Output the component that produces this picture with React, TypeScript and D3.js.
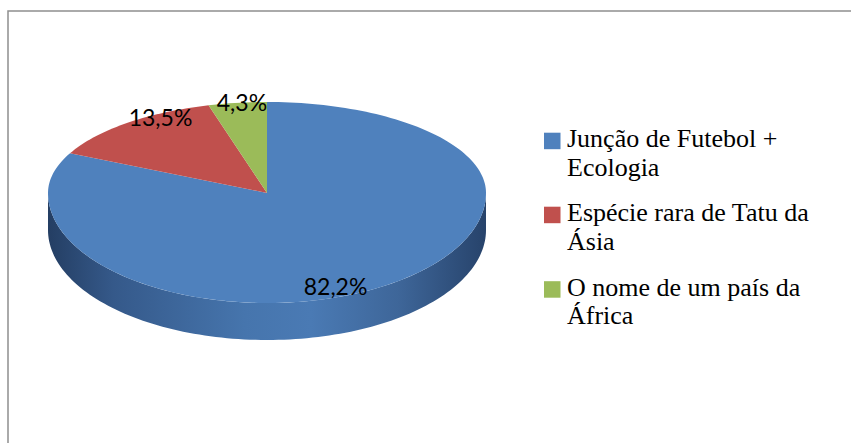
import React from "react";
import * as d3 from "d3";

const categories = ["Junção de Futebol + Ecologia", "Espécie rara de Tatu da Ásia", "O nome de um país da África"];
const legendLines = [["Junção de Futebol +", "Ecologia"], ["Espécie rara de Tatu da", "Ásia"], ["O nome de um país da", "África"]];
const values = [82.2, 13.5, 4.3];
const valueLabels = ["82,2%", "13,5%", "4,3%"];
const colors = ["#4F81BD", "#C0504D", "#9BBB59"];

const W = 851, H = 443;
const cx = 267, cy = 193, rx = 219, ryTop = 91, ryBot = 110, depth = 37;
// label radial factors (x, y) per slice
const labelK = [[0.59, 1.0], [0.76, 1.07], [0.85, 1.0]];

function pt(theta: number): [number, number] {
  const c = Math.cos(theta);
  const ry = c > 0 ? ryTop : ryBot;
  return [cx + rx * Math.sin(theta), cy - ry * c];
}

function arcPts(a0: number, a1: number, dy = 0): [number, number][] {
  const n = Math.max(4, Math.ceil(((a1 - a0) / (Math.PI * 2)) * 240));
  const out: [number, number][] = [];
  for (let i = 0; i <= n; i++) {
    const t = a0 + ((a1 - a0) * i) / n;
    const p = pt(t);
    out.push([p[0], p[1] + dy]);
  }
  return out;
}

export default function App() {
  const pie = d3.pie<number>().sort(null).value((d) => d)(values);
  const line = d3.line<[number, number]>();

  const front = arcPts(Math.PI / 2, (3 * Math.PI) / 2);
  const frontBottom = arcPts(Math.PI / 2, (3 * Math.PI) / 2, depth).reverse();
  const sidePath = line([...front, ...frontBottom]) + "Z";

  const legendX = 544, legendText = 567;
  const legendTop = [147, 221, 295.5];
  const lineH = 28.5;

  return (
    <svg width={W} height={H} style={{ position: "absolute", left: 0, top: 0, background: "#fff" }}>
      <defs>
        <linearGradient id="side" x1={cx - rx} x2={cx + rx} y1={0} y2={0} gradientUnits="userSpaceOnUse">
          <stop offset="0" stopColor="#243e63" />
          <stop offset="0.15" stopColor="#35598a" />
          <stop offset="0.45" stopColor="#4675ad" />
          <stop offset="0.6" stopColor="#4a7ab4" />
          <stop offset="0.8" stopColor="#3e6699" />
          <stop offset="1" stopColor="#27436b" />
        </linearGradient>
      </defs>
      <rect x={8} y={11} width={W + 20} height={H + 20} fill="#fff" stroke="#8f8f8f" strokeWidth={1.5} />
      <path d={sidePath} fill="url(#side)" />
      {pie.map((s, i) => {
        const pts = arcPts(s.startAngle, s.endAngle);
        const d = line([[cx, cy], ...pts]) + "Z";
        return <path key={i} d={d} fill={colors[i]} />;
      })}
      {pie.map((s, i) => {
        const m = (s.startAngle + s.endAngle) / 2;
        const c = Math.cos(m);
        const ry = c > 0 ? ryTop : ryBot;
        const x = cx + rx * Math.sin(m) * labelK[i][0];
        const y = cy - ry * c * labelK[i][1];
        return (
          <text key={i} x={x} y={y} dy="0.36em" textAnchor="middle" fontFamily="Lato, 'Open Sans', sans-serif" fontSize={23} fill="#000">
            {valueLabels[i]}
          </text>
        );
      })}
      {categories.map((c, i) => (
        <g key={c}>
          <rect x={legendX} y={legendTop[i] - 14.3} width={16.5} height={16.5} fill={colors[i]} />
          {legendLines[i].map((l, j) => (
            <text key={j} x={legendText} y={legendTop[i] + j * lineH} fontFamily="'Liberation Serif', 'Times New Roman', serif" fontSize={26} fill="#000">
              {l}
            </text>
          ))}
        </g>
      ))}
    </svg>
  );
}
